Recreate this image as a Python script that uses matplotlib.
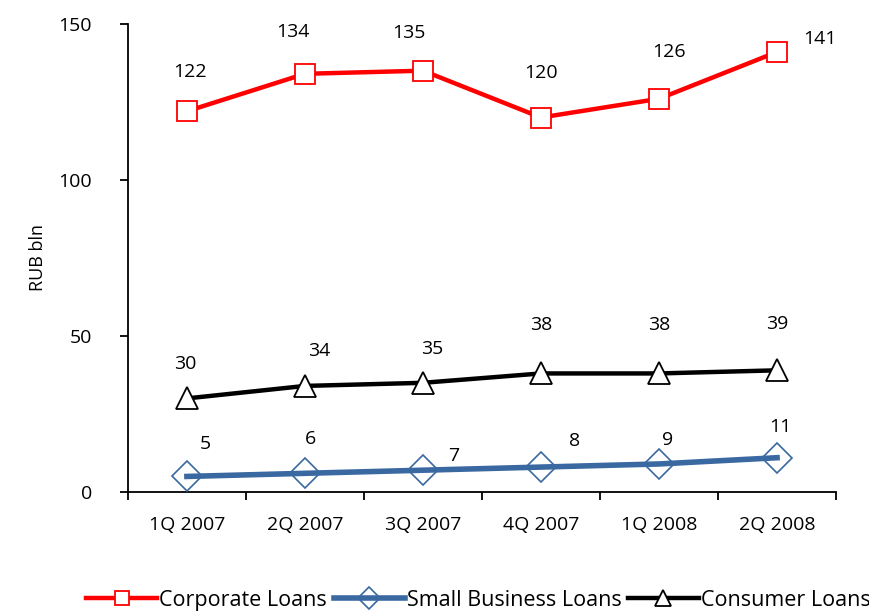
import matplotlib
matplotlib.use("Agg")
import matplotlib.pyplot as plt

plt.rcParams['font.family'] = ['Open Sans', 'DejaVu Sans']

categories = ["1Q 2007", "2Q 2007", "3Q 2007", "4Q 2007", "1Q 2008", "2Q 2008"]
corporate = [122, 134, 135, 120, 126, 141]
small_business = [5, 6, 7, 8, 9, 11]
consumer = [30, 34, 35, 38, 38, 39]

# label offsets in points (style only)
corp_off = [(2, 28), (-9, 30), (-10, 27), (0, 32), (7, 34), (31, 9)]
cons_off = [(-1, 25), (10, 25), (7, 24), (0, 35), (0, 35), (0, 33)]
small_off = [(13, 23), (4, 25), (22, 10), (24, 19), (6, 17), (2, 22)]

fig = plt.figure(figsize=(8.7, 6.12), dpi=100)
ax = fig.add_axes([0.147, 0.196, 0.814, 0.765])

x = list(range(len(categories)))
ax.plot(x, corporate, color='#FF0000', lw=3.2, marker='s', ms=14, mfc='white',
        mec='#FF0000', mew=1.3, label='Corporate Loans', zorder=3)
ax.plot(x, small_business, color='#3A68A0', lw=4, marker='D', ms=15, mfc='none',
        mec='#3A68A0', mew=1.2, label='Small Business Loans', zorder=3)
ax.plot(x, consumer, color='black', lw=3.2, marker='^', ms=16, mfc='white',
        mec='black', mew=1.3, label='Consumer Loans', zorder=3)

for series, offs in ((corporate, corp_off), (consumer, cons_off), (small_business, small_off)):
    for xi, v, (dx, dy) in zip(x, series, offs):
        ax.annotate(str(v), (xi, v), xytext=(dx, dy), textcoords='offset points',
                    ha='center', va='center', fontsize=14, color='black')

ax.set_xlim(-0.5, 5.5)
ax.set_ylim(0, 150)
ax.set_yticks([0, 50, 100, 150])
ax.set_xticks(x)
ax.set_xticklabels(categories)
ax.set_xticks([i - 0.5 for i in range(7)], minor=True)
ax.tick_params(axis='x', which='major', length=0, pad=17, labelsize=14)
ax.tick_params(axis='x', which='minor', length=6, width=1.3, direction='out')
ax.tick_params(axis='y', length=6, width=1.3, direction='out', labelsize=14, pad=20)
for t in ax.get_yticklabels():
    t.set_horizontalalignment('right')
ax.spines['top'].set_visible(False)
ax.spines['right'].set_visible(False)
ax.spines['left'].set_linewidth(1.3)
ax.spines['bottom'].set_linewidth(1.3)
ax.set_ylabel('RUB bln', fontsize=13, labelpad=8)

leg = fig.legend(loc='lower center', bbox_to_anchor=(0.55, -0.03), ncol=3, frameon=False,
                 fontsize=15.5, handlelength=3.3, handletextpad=0.1, columnspacing=0.3,
                 markerscale=0.75)

fig.savefig('out.png', dpi=100)
